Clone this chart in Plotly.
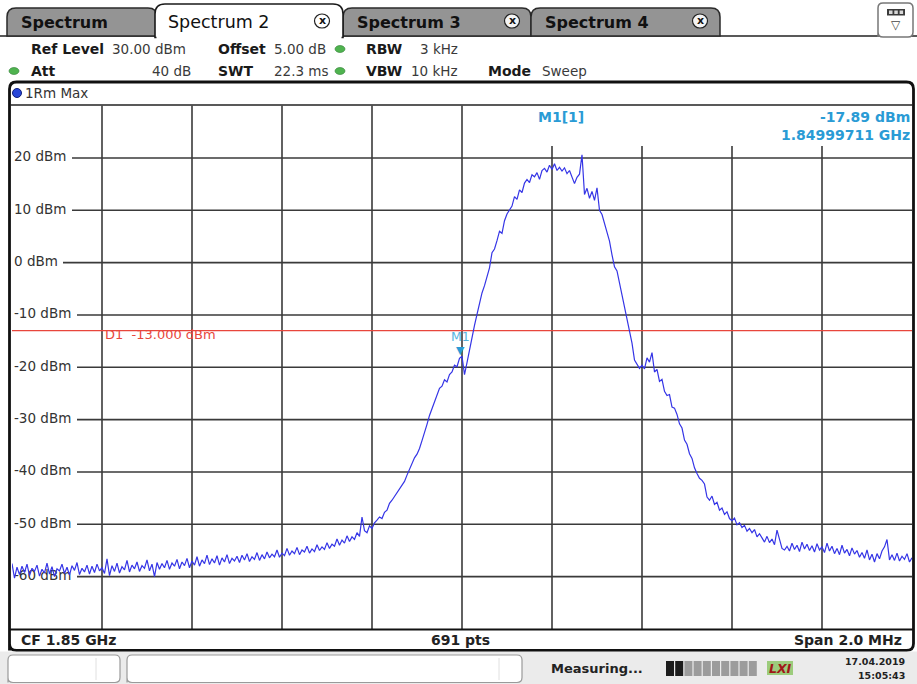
import numpy as np
import plotly.graph_objects as go

# ---------------- data ----------------
CF_GHZ = 1.85
SPAN_GHZ = 0.002
REF_LEVEL_DBM = 30
RANGE_DB = 100

level_dbm = [
    -57.5, -60.3, -58.2, -59.6, -58.0, -59.2, -57.6, -59.8, -58.4, -59.0,
    -57.8, -59.9, -58.6, -59.3, -57.4, -59.5, -58.1, -60.0, -58.5, -58.9,
    -57.6, -59.4, -58.2, -59.7, -57.9, -58.8, -57.3, -59.6, -58.4, -59.1,
    -57.8, -59.5, -58.0, -59.2, -57.6, -58.9, -58.3, -59.4, -56.6, -59.8,
    -57.9, -59.0, -57.4, -59.3, -58.1, -58.7, -56.9, -59.1, -57.8, -58.5,
    -57.2, -59.0, -57.9, -58.4, -56.8, -58.9, -57.6, -60.0, -57.3, -58.6,
    -57.5, -58.3, -56.9, -58.6, -57.4, -58.0, -56.7, -58.5, -57.2, -57.9,
    -56.5, -58.3, -57.0, -57.8, -56.2, -58.0, -56.8, -57.5, -55.9, -57.7,
    -56.6, -57.4, -56.0, -57.8, -56.4, -57.2, -55.8, -57.5, -56.5, -57.0,
    -56.1, -57.3, -55.9, -56.8, -55.6, -57.1, -56.2, -56.7, -55.4, -56.9,
    -55.8, -56.6, -55.3, -56.4, -55.7, -56.2, -54.9, -56.3, -55.5, -56.0,
    -54.6, -55.9, -55.1, -55.6, -54.4, -55.8, -54.9, -55.3, -54.2, -55.5,
    -54.7, -55.2, -53.9, -55.0, -54.3, -54.8, -53.5, -54.6, -53.8, -54.2,
    -52.8, -54.0, -53.0, -53.6, -52.2, -53.3, -52.4, -52.9, -51.6, -52.3,
    -48.6, -51.2, -51.6, -50.3, -50.8, -49.7, -49.2, -48.6, -48.9, -47.7,
    -47.3, -46.0, -45.4, -44.7, -44.0, -43.2, -42.4, -41.8, -40.6, -39.5,
    -38.4, -37.3, -36.6, -35.5, -34.0, -32.6, -30.9, -29.2, -27.9, -26.2,
    -24.9, -24.0, -23.6, -22.4, -22.8, -21.4, -20.9, -19.6, -19.9, -18.3,
    -17.9, -21.4, -19.1, -16.5, -14.6, -12.0, -9.9, -7.6, -5.8, -4.4,
    -2.7, -1.0, 1.9, 2.6, 4.2, 6.0, 5.6, 8.0, 9.3, 10.2,
    10.8, 12.6, 12.1, 13.9, 13.4, 15.2, 15.9, 15.3, 16.8, 16.4,
    17.2, 15.9, 17.6, 18.0, 17.3, 18.6, 17.8, 18.9, 17.6, 18.2,
    17.5, 18.1, 17.0, 17.6, 16.4, 15.1, 16.3, 16.9, 20.6, 13.0,
    14.2, 12.3, 13.6, 11.9, 14.3, 10.0, 9.2, 7.4, 5.8, 4.1,
    1.5, -0.8, -1.6, -4.0, -5.9, -8.1, -10.6, -13.5, -15.4, -18.6,
    -19.4, -20.2, -19.6, -20.3, -18.2, -19.0, -17.2, -20.9, -20.4, -22.7,
    -22.3, -24.6, -25.4, -25.2, -27.6, -27.8, -29.0, -30.8, -31.6, -33.9,
    -34.7, -36.5, -37.4, -39.2, -40.3, -41.2, -41.6, -42.3, -44.8, -45.4,
    -44.6, -46.2, -45.8, -47.3, -46.9, -48.1, -47.6, -48.9, -49.3, -48.8,
    -50.1, -49.7, -50.6, -50.2, -51.3, -50.8, -51.6, -51.0, -52.4, -51.8,
    -52.6, -53.4, -52.3, -53.5, -52.8, -53.9, -51.1, -52.9, -54.6, -54.9,
    -54.2, -55.1, -53.6, -54.8, -54.0, -55.2, -53.4, -54.7, -53.8, -55.0,
    -54.1, -55.3, -53.7, -54.9, -54.3, -55.4, -53.6, -55.1, -54.2, -55.6,
    -54.6, -55.8, -54.0, -55.5, -54.8, -56.0, -54.5, -55.7, -55.0, -56.3,
    -55.4, -56.5, -54.9, -56.8, -55.7, -57.2, -55.6, -56.6, -55.1, -54.3,
    -52.9, -56.8, -55.8, -56.9, -55.5, -57.0, -56.1, -56.7, -55.6, -57.2,
    -56.4,
]

y_ticks = [20, 10, 0, -10, -20, -30, -40, -50, -60]
y_tick_labels = ["20 dBm", "10 dBm", "0 dBm", "-10 dBm", "-20 dBm",
                 "-30 dBm", "-40 dBm", "-50 dBm", "-60 dBm"]
x_div_steps = [-4, -3, -2, -1, 0, 1, 2, 3, 4]

marker_freq_ghz = 1.84999711
marker_level_dbm = -17.89
display_line_dbm = -13.0

f_start = CF_GHZ - SPAN_GHZ / 2
f_stop = CF_GHZ + SPAN_GHZ / 2
freq_ghz = np.linspace(f_start, f_stop, len(level_dbm))
y_bottom = REF_LEVEL_DBM - RANGE_DB

# ---------------- geometry helpers ----------------
W, H = 917, 684
PX0, PX1 = 12, 912
PY_TOP, PY_BOT = 105.6, 629.0


def px(x):
    return x / W


def py(y):
    return 1 - y / H


def fx(x_pix):
    return f_start + (x_pix - PX0) / (PX1 - PX0) * SPAN_GHZ


def ly(y_pix):
    return REF_LEVEL_DBM - (y_pix - PY_TOP) / (PY_BOT - PY_TOP) * RANGE_DB


FONT = "DejaVu Sans"
shapes = []
annotations = []


def P(x, y):
    return f"{px(x):.5f},{py(y):.5f}"


def rpath(x0, y0, x1, y1, r, top_only=False):
    d = f"M{P(x0, y1)} L{P(x0, y0 + r)} Q{P(x0, y0)} {P(x0 + r, y0)} "
    d += f"L{P(x1 - r, y0)} Q{P(x1, y0)} {P(x1, y0 + r)} "
    if top_only:
        d += f"L{P(x1, y1)} Z"
    else:
        d += f"L{P(x1, y1 - r)} Q{P(x1, y1)} {P(x1 - r, y1)} "
        d += f"L{P(x0 + r, y1)} Q{P(x0, y1)} {P(x0, y1 - r)} Z"
    return d


def add_path(d, fill=None, color="#000", width=1.0, layer="above"):
    s = dict(type="path", xref="paper", yref="paper", path=d,
             line=dict(color=color, width=width), layer=layer)
    if fill:
        s["fillcolor"] = fill
    shapes.append(s)


def add_rect(x0, y0, x1, y1, fill, color=None, width=0, layer="above"):
    shapes.append(dict(type="rect", xref="paper", yref="paper",
                       x0=px(x0), x1=px(x1), y0=py(y1), y1=py(y0),
                       fillcolor=fill,
                       line=dict(color=color or fill, width=width),
                       layer=layer))


def add_line(x0, y0, x1, y1, color="#000", width=1.0, layer="above"):
    shapes.append(dict(type="line", xref="paper", yref="paper",
                       x0=px(x0), x1=px(x1), y0=py(y0), y1=py(y1),
                       line=dict(color=color, width=width), layer=layer))


def add_ellipse(cx, cy, rx, ry, fill, color, width=0.8):
    shapes.append(dict(type="circle", xref="paper", yref="paper",
                       x0=px(cx - rx), x1=px(cx + rx), y0=py(cy + ry),
                       y1=py(cy - ry), fillcolor=fill,
                       line=dict(color=color, width=width), layer="above"))


def add_text(x, y, text, size=13, color="#222", bold=False, anchor="left",
             italic=False):
    t = f"<b>{text}</b>" if bold else text
    if italic:
        t = f"<i>{t}</i>"
    annotations.append(dict(xref="paper", yref="paper", x=px(x), y=py(y),
                            text=t, showarrow=False, xanchor=anchor,
                            yanchor="middle",
                            font=dict(family=FONT, size=size, color=color),
                            borderpad=0))


# ---------------- tabs ----------------
TAB_GREY = "#949494"
add_line(0, 36, 917, 36, "#222", 1.5)
for (x0, x1, label, xc) in [(7, 157, "Spectrum", None),
                            (343, 531, "Spectrum 3", 512),
                            (531, 720, "Spectrum 4", 700)]:
    add_path(rpath(x0, 8, x1, 36, 9, top_only=True), fill=TAB_GREY,
             color="#2a2a2a", width=1.5)
    add_text(x0 + 13, 23, label, size=16, color="#111", bold=True)
    if xc:
        add_ellipse(xc, 21, 7.5, 7, "#f4f4f4", "#222", 1.2)
        add_text(xc, 20.5, "x", size=11, color="#111", bold=True,
                 anchor="center")
# active tab
add_path(rpath(155, 4, 343, 37.5, 10, top_only=True), fill="#ffffff",
         color="#1a1a1a", width=1.6)
add_rect(156.5, 35, 341.5, 39, "#ffffff")
add_text(167, 22, "Spectrum 2", size=17.5, color="#111")
add_ellipse(322, 21, 7.5, 7, "#ffffff", "#222", 1.2)
add_text(322, 20.5, "x", size=11, color="#111", bold=True, anchor="center")

# top-right icon
add_path(rpath(878, 3, 913, 37, 5), fill="#ffffff", color="#777", width=1.5)
add_rect(887, 9, 905, 15.5, "#3a3a3a")
for k in range(3):
    add_rect(889 + k * 5.3, 10.5, 892.5 + k * 5.3, 14, "#d8d8d8")
add_text(896, 25, "▽", size=12, color="#444", anchor="center")

# ---------------- header ----------------
R1, R2 = 49, 71
add_text(30, R1, "Ref Level", 14, "#1a1a1a", True)
add_text(111, R1, "30.00 dBm", 13.5, "#3a3a3a")
add_text(217, R1, "Offset", 14, "#1a1a1a", True)
add_text(273, R1, "5.00 dB", 13.5, "#3a3a3a")
add_text(365, R1, "RBW", 14, "#1a1a1a", True)
add_text(459, R1, "3 kHz", 13.5, "#3a3a3a", anchor="right")
add_text(30, R2, "Att", 14, "#1a1a1a", True)
add_text(192, R2, "40 dB", 13.5, "#3a3a3a", anchor="right")
add_text(217, R2, "SWT", 14, "#1a1a1a", True)
add_text(273, R2, "22.3 ms", 13.5, "#3a3a3a")
add_text(365, R2, "VBW", 14, "#1a1a1a", True)
add_text(459, R2, "10 kHz", 13.5, "#3a3a3a", anchor="right")
add_text(487, R2, "Mode", 14, "#1a1a1a", True)
add_text(541, R2, "Sweep", 13.5, "#3a3a3a")
for (cx, cy) in [(340, R1), (340, R2), (14, R2)]:
    add_ellipse(cx, cy, 5, 3.5, "#4fb34f", "#2e7d32", 0.6)

# ---------------- window frame ----------------
add_path(rpath(9.5, 82, 913.5, 650.5, 7), color="#111", width=2.8)
add_line(10, 105, 913, 105, "#222", 1.6)
add_line(10, 629.5, 913, 629.5, "#111", 2.2)
add_ellipse(17, 93, 4.5, 4.5, "#2846d8", "#10207a", 1)
add_text(24, 93, "1Rm Max", 13.5, "#333")

# bottom bar
add_text(20, 639.5, "CF 1.85 GHz", 14, "#222", True)
add_text(460, 639.5, "691 pts", 14, "#222", True, anchor="center")
add_text(903, 639.5, "Span 2.0 MHz", 14, "#222", True, anchor="right")

# status bar
add_rect(0, 651.5, 917, 684, "#ebebeb")
add_path(rpath(8, 655, 120, 682.5, 5), fill="#ffffff", color="#9a9a9a",
         width=1.2)
add_path(rpath(127, 655, 522, 682.5, 5), fill="#ffffff", color="#9a9a9a",
         width=1.2)
add_line(96, 658, 96, 680, "#e0e0e0", 1)
add_line(499, 658, 499, 680, "#e0e0e0", 1)
add_text(550, 668, "Measuring...", 13, "#222", True)
for k in range(10):
    x0 = 666 + k * 9.2
    add_rect(x0, 661, x0 + 8, 676, "#1c1c1c" if k < 2 else "#9c9c9c")
add_rect(767, 661, 793, 675, "#9ccc7c")
add_text(780, 668, "LXI", 12.5, "#a01818", True, anchor="center", italic=True)
add_text(906, 661.5, "17.04.2019", 9.5, "#222", True, anchor="right")
add_text(906, 675.5, "15:05:43", 9.5, "#222", True, anchor="right")

# ---------------- grid (data coordinates) ----------------
GRID = "#3a3a3a"
grid_top_right = ly(146)
for k in x_div_steps:
    f = CF_GHZ + k * SPAN_GHZ / 10
    top = REF_LEVEL_DBM if k <= 0 else grid_top_right
    shapes.append(dict(type="line", xref="x", yref="y", x0=f, x1=f,
                       y0=y_bottom, y1=top, layer="below",
                       line=dict(color=GRID, width=1.6)))
label_end = {"20 dBm": 72, "10 dBm": 72, "0 dBm": 63}
for v, lab in zip(y_ticks, y_tick_labels):
    shapes.append(dict(type="line", xref="x", yref="y",
                       x0=fx(label_end.get(lab, 77)), x1=f_stop, y0=v, y1=v,
                       layer="below", line=dict(color=GRID, width=1.6)))

# display line D1
shapes.append(dict(type="line", xref="x", yref="y", x0=f_start, x1=f_stop,
                   y0=display_line_dbm, y1=display_line_dbm, layer="below",
                   line=dict(color="#e8463c", width=1.4)))
annotations.append(dict(xref="x", yref="y", x=fx(103), y=display_line_dbm,
                        yshift=-3.5, text="D1\u00a0\u00a0-13.000 dBm",
                        showarrow=False, xanchor="left", yanchor="middle",
                        font=dict(family=FONT, size=13, color="#e8463c")))

# marker
MK = "#2a9bd5"
annotations.append(dict(xref="x", yref="y", x=marker_freq_ghz,
                        y=marker_level_dbm, text="▼", showarrow=False,
                        xanchor="center", yanchor="bottom", yshift=-3,
                        font=dict(family=FONT, size=11, color=MK)))
annotations.append(dict(xref="x", yref="y", x=marker_freq_ghz,
                        y=marker_level_dbm, text="M1", showarrow=False,
                        xanchor="center", yanchor="bottom", yshift=10,
                        font=dict(family=FONT, size=12.5, color="#55b4e0")))
add_text(561, 117, "M1[1]", 14, MK, True, anchor="center")
add_text(911, 117, "-17.89 dBm", 14, MK, True, anchor="right")
add_text(911, 135, "1.84999711 GHz", 14, MK, True, anchor="right")

# ---------------- figure ----------------
fig = go.Figure()
fig.add_trace(go.Scatter(
    x=[fx(14)] * len(y_ticks), y=y_ticks, mode="text", text=y_tick_labels,
    textposition="middle right", cliponaxis=False, hoverinfo="skip",
    textfont=dict(family=FONT, size=13.5, color="#333")))
fig.add_trace(go.Scatter(
    x=freq_ghz, y=level_dbm, mode="lines", hoverinfo="skip",
    line=dict(color="#3535e6", width=1.2)))

fig.update_layout(
    width=W, height=H, autosize=False,
    margin=dict(l=0, r=0, t=0, b=0),
    paper_bgcolor="#ffffff", plot_bgcolor="#ffffff",
    showlegend=False,
    xaxis=dict(domain=[PX0 / W, PX1 / W], range=[f_start, f_stop],
               visible=False, fixedrange=True),
    yaxis=dict(domain=[1 - PY_BOT / H, 1 - PY_TOP / H],
               range=[y_bottom, REF_LEVEL_DBM], visible=False,
               fixedrange=True),
    shapes=shapes, annotations=annotations,
)
fig.write_html("out.html", config={"displayModeBar": False},
               post_script="document.body.style.margin='0';")
